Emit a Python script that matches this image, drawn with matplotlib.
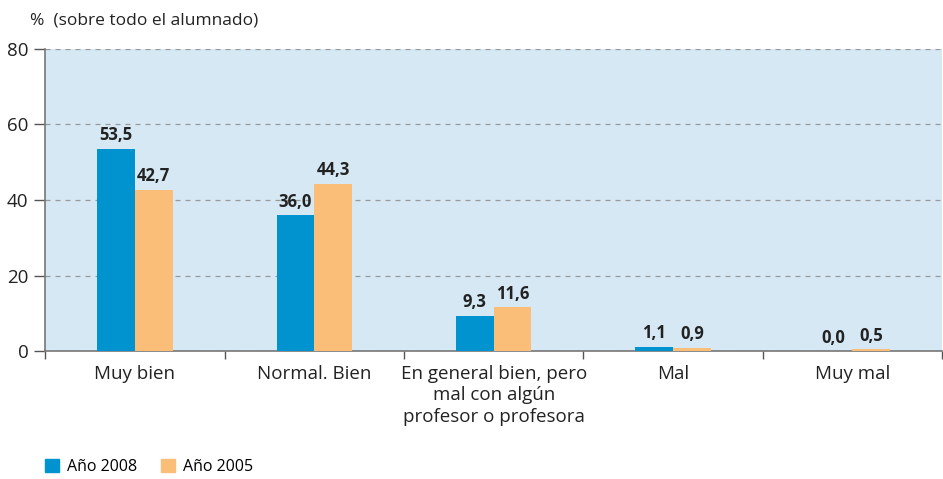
import matplotlib.pyplot as plt
import numpy as np
from matplotlib.patches import Patch

categories = ['Muy bien', 'Normal. Bien', 'En general bien, pero\nmal con algún\nprofesor o profesora', 'Mal', 'Muy mal']
anio_2008 = [53.5, 36.0, 9.3, 1.1, 0.0]
anio_2005 = [42.7, 44.3, 11.6, 0.9, 0.5]
series_names = ['Año 2008', 'Año 2005']
y_ticks = [0, 20, 40, 60, 80]

plt.rcParams['font.family'] = ['Open Sans', 'DejaVu Sans']

blue = '#0093d0'
orange = '#fbbe78'

fig = plt.figure(figsize=(9.43, 4.79), dpi=100)
ax = fig.add_axes([0.048, 0.267, 0.951, 0.631])
ax.set_facecolor('#d5e8f4')

x = np.arange(len(categories))
w = 0.21
b1 = ax.bar(x - w / 2, anio_2008, w, color=blue, zorder=3)
b2 = ax.bar(x + w / 2, anio_2005, w, color=orange, zorder=3)

def fmt(v):
    return ('%.1f' % v).replace('.', ',')

for bars, vals in ((b1, anio_2008), (b2, anio_2005)):
    for b, v in zip(bars, vals):
        ax.text(b.get_x() + b.get_width() / 2, v + 1.2, fmt(v), ha='center', va='bottom',
                fontsize=12, fontweight='bold', color='#222222', zorder=4)

ax.set_xlim(-0.5, len(categories) - 0.5)
ax.set_ylim(0, 80)
ax.set_yticks(y_ticks)
ax.set_yticklabels([str(t) for t in y_ticks], fontsize=13.5, color='#222222')
ax.yaxis.grid(True, linestyle=(0, (4, 4)), color='#999999', linewidth=0.9, zorder=1)

ax.set_xticks(x)
ax.set_xticklabels(categories, fontsize=13.5, color='#222222', linespacing=1.25)
ax.tick_params(axis='x', length=0, pad=10)
ax.set_xticks(np.arange(len(categories) + 1) - 0.5, minor=True)
ax.tick_params(axis='x', which='minor', length=6, color='#555555', width=1)
ax.tick_params(axis='y', length=8, color='#555555', width=1, pad=4)

for s in ('top', 'right'):
    ax.spines[s].set_visible(False)
for s in ('left', 'bottom'):
    ax.spines[s].set_color('#777777')
    ax.spines[s].set_linewidth(1.2)

fig.text(0.032, 0.958, '%  (sobre todo el alumnado)', fontsize=12.5, color='#222222', va='center')

handles = [Patch(color=blue), Patch(color=orange)]
fig.legend(handles, series_names, loc='lower left', bbox_to_anchor=(0.032, -0.022), ncol=2,
           frameon=False, fontsize=11.5, handlelength=0.9, handleheight=0.9,
           handletextpad=0.5, columnspacing=1.5)

fig.savefig('out.png', dpi=100)
